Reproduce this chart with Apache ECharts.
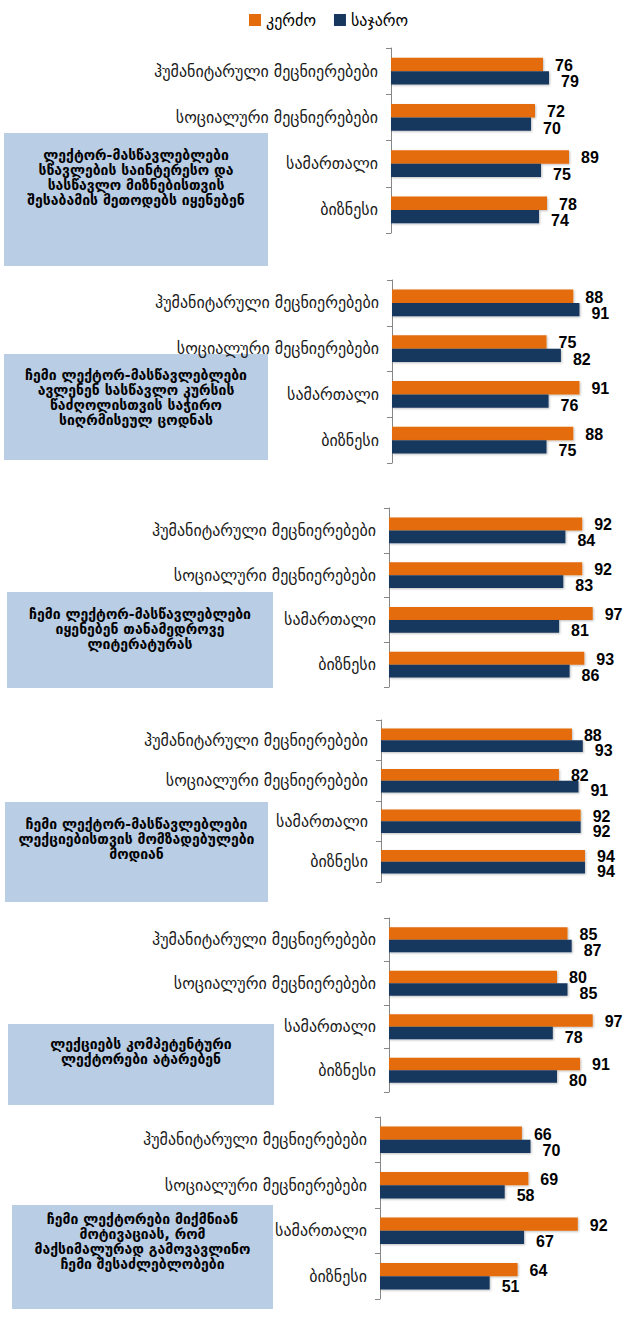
<!DOCTYPE html>
<html>
<head>
<meta charset="utf-8">
<script src="https://cdn.jsdelivr.net/npm/echarts@6/dist/echarts.min.js"></script>
<style>
  html, body { margin: 0; padding: 0; background: #fff; }
  #chart { width: 625px; height: 1317px; }
</style>
</head>
<body>
<div id="chart"></div>
<script>
// categories and series names
const categories = ['ჰუმანიტარული მეცნიერებები', 'სოციალური მეცნიერებები', 'სამართალი', 'ბიზნესი']
const seriesNames = ['კერძო', 'საჯარო']

// values per panel: private (კერძო) and public (საჯარო)
const private1 = [76, 72, 89, 78]
const public1 = [79, 70, 75, 74]
const private2 = [88, 75, 91, 88]
const public2 = [91, 82, 76, 75]
const private3 = [92, 92, 97, 93]
const public3 = [84, 83, 81, 86]
const private4 = [88, 82, 92, 94]
const public4 = [93, 91, 92, 94]
const private5 = [85, 80, 97, 91]
const public5 = [87, 85, 78, 80]
const private6 = [66, 69, 92, 64]
const public6 = [70, 58, 67, 51]

// statement texts shown in the blue boxes
const statement1 = ['ლექტორ-მასწავლებლები', 'სწავლების საინტერესო და', 'სასწავლო მიზნებისთვის', 'შესაბამის მეთოდებს იყენებენ']
const statement2 = ['ჩემი ლექტორ-მასწავლებლები', 'ავლენენ სასწავლო კურსის', 'წაძღოლისთვის საჭირო', 'სიღრმისეულ ცოდნას']
const statement3 = ['ჩემი ლექტორ-მასწავლებლები', 'იყენებენ თანამედროვე', 'ლიტერატურას']
const statement4 = ['ჩემი ლექტორ-მასწავლებლები', 'ლექციებისთვის მომზადებულები', 'მოდიან']
const statement5 = ['ლექციებს კომპეტენტური', 'ლექტორები ატარებენ']
const statement6 = ['ჩემი ლექტორები მიქმნიან', 'მოტივაციას, რომ', 'მაქსიმალურად გამოვავლინო', 'ჩემი შესაძლებლობები']

const panels = [
  { priv: private1, pub: public1, text: statement1 },
  { priv: private2, pub: public2, text: statement2 },
  { priv: private3, pub: public3, text: statement3 },
  { priv: private4, pub: public4, text: statement4 },
  { priv: private5, pub: public5, text: statement5 },
  { priv: private6, pub: public6, text: statement6 },
]

// layout of each panel (plot area + box)
const layout = [
  { top: 48, height: 185, left: 391, width: 200, box: [4, 133, 264, 133], textTop: 147 },
  { top: 280, height: 183, left: 392, width: 206, box: [4, 354, 264, 106], textTop: 367 },
  { top: 508, height: 179, left: 389, width: 210, box: [7, 592, 266, 96], textTop: 606 },
  { top: 720, height: 162, left: 381, width: 217, box: [5, 802, 263, 100], textTop: 816 },
  { top: 918, height: 174, left: 389, width: 210, box: [8, 1024, 266, 81], textTop: 1036 },
  { top: 1117, height: 182, left: 380, width: 215, box: [12, 1205, 261, 104], textTop: 1211 },
]

const ORANGE = '#e46c0a'
const NAVY = '#17375e'

const grid = [], xAxis = [], yAxis = [], series = [], graphic = []

const valueLabel = (dy) => ({
  show: true,
  position: 'right',
  distance: 12,
  offset: [0, dy],
  color: '#000',
  fontSize: 16,
  fontWeight: 'bold',
  fontFamily: 'Liberation Sans Narrow, Liberation Sans, sans-serif',
})

panels.forEach((p, i) => {
  const l = layout[i]
  grid.push({ left: l.left, top: l.top, width: l.width, height: l.height })
  xAxis.push({ gridIndex: i, type: 'value', min: 0, max: 100, show: false })
  yAxis.push({
    gridIndex: i,
    type: 'category',
    inverse: true,
    data: categories,
    axisLine: { lineStyle: { color: '#868686', width: 1 } },
    axisTick: { show: true, length: 5, lineStyle: { color: '#868686' } },
    axisLabel: { color: '#1a1a1a', fontSize: 16, fontFamily: 'DejaVu Sans', margin: 13 },
  })
  const shadow = { shadowColor: 'rgba(0,0,0,0.25)', shadowBlur: 2, shadowOffsetX: 1, shadowOffsetY: 1 }
  series.push({
    name: seriesNames[0], type: 'bar', xAxisIndex: i, yAxisIndex: i,
    data: p.priv, barGap: 0, barCategoryGap: '42%',
    itemStyle: Object.assign({ color: ORANGE }, shadow), label: valueLabel(1), silent: true,
  })
  series.push({
    name: seriesNames[1], type: 'bar', xAxisIndex: i, yAxisIndex: i,
    data: p.pub, barGap: 0, barCategoryGap: '42%',
    itemStyle: Object.assign({ color: NAVY }, shadow), label: valueLabel(4), silent: true,
  })
  const [bx, by, bw, bh] = l.box
  // box sits underneath the axis labels
  graphic.push({
    type: 'rect', left: bx, top: by, z: -1,
    shape: { width: bw, height: bh },
    style: { fill: '#b9cde5' },
  })
  graphic.push({
    type: 'text', z: 0,
    x: bx + bw / 2, y: l.textTop,
    style: {
      text: p.text.join('\n'),
      align: 'center', verticalAlign: 'top',
      fontSize: 14, fontWeight: 'bold', lineHeight: 15,
      fontFamily: 'DejaVu Sans', fill: '#000',
    },
  })
})

const myChart = echarts.init(document.getElementById('chart'), null, { renderer: 'svg' })
myChart.setOption({
  animation: false,
  legend: {
    data: seriesNames,
    top: 7,
    left: 244,
    icon: 'rect',
    itemWidth: 12,
    itemHeight: 12,
    itemGap: 18,
    textStyle: { fontSize: 16, fontFamily: 'DejaVu Sans', color: '#000' },
  },
  grid,
  xAxis,
  yAxis,
  series,
  graphic,
})
</script>
</body>
</html>
